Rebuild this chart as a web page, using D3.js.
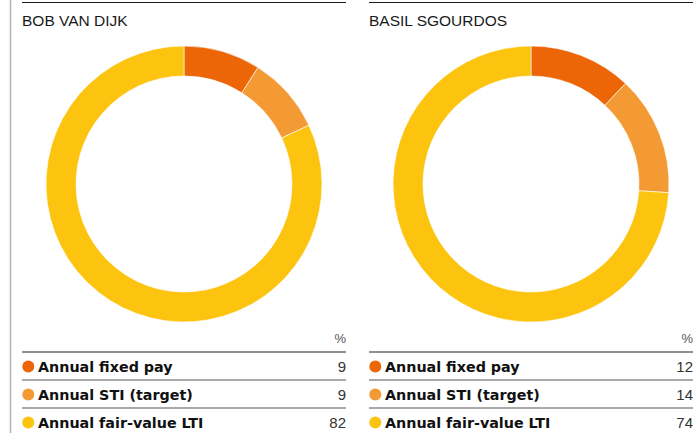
<!DOCTYPE html>
<html>
<head>
<meta charset="utf-8">
<script src="https://cdn.jsdelivr.net/npm/d3@7"></script>
<style>
  html, body { margin: 0; padding: 0; background: #fff; }
  svg { display: block; }
</style>
</head>
<body>
<svg id="chart" width="695" height="433"></svg>
<script>
// Pay mix per executive (percent of total target remuneration)
const people = ["BOB VAN DIJK", "BASIL SGOURDOS"];
const components = ["Annual fixed pay", "Annual STI (target)", "Annual fair-value LTI"];
const bobValues = [9, 9, 82];
const basilValues = [12, 14, 74];
const componentColors = ["#EC6608", "#F39A35", "#FCC30F"];

const seriesByPerson = [bobValues, basilValues];

const svg = d3.select("#chart");
const font = "'Liberation Sans', Arial, sans-serif";
const tableFont = "'DejaVu Sans', sans-serif";

// Thin grey rule down the left margin
svg.append("line")
  .attr("x1", 10.5).attr("x2", 10.5)
  .attr("y1", 0).attr("y2", 433)
  .attr("stroke", "#b3b3b3").attr("stroke-width", 1.5);

const panelWidth = 324;
const panelX = d3.scaleBand().domain(people).range([22, 22 + 2 * panelWidth + 23]).paddingInner(23 / 347);

const color = d3.scaleOrdinal().domain(components).range(componentColors);

const pie = d3.pie().sort(null).value(d => d.value);
const arc = d3.arc().innerRadius(108).outerRadius(138);

const rowY = d3.scaleBand().domain(components).range([352, 436]).padding(0);

people.forEach((name, i) => {
  const g = svg.append("g").attr("transform", `translate(${panelX(name)},0)`);
  const values = seriesByPerson[i];
  const data = components.map((c, k) => ({ key: c, value: values[k] }));

  // Top rule and heading
  g.append("line")
    .attr("x1", 0).attr("x2", panelWidth)
    .attr("y1", 2.5).attr("y2", 2.5)
    .attr("stroke", "#1a1a1a").attr("stroke-width", 1.2);

  g.append("text")
    .attr("x", 0).attr("y", 26)
    .attr("font-family", font)
    .attr("font-size", 15.5)
    .attr("fill", "#1a1a1a")
    .text(name);

  // Donut
  const donut = g.append("g").attr("transform", `translate(${panelWidth / 2},184)`);
  donut.selectAll("path")
    .data(pie(data))
    .join("path")
    .attr("d", arc)
    .attr("fill", d => color(d.data.key))
    .attr("stroke", "#fff")
    .attr("stroke-width", 0.6);

  // Legend table
  g.append("text")
    .attr("x", panelWidth).attr("y", 343)
    .attr("text-anchor", "end")
    .attr("font-family", font)
    .attr("font-size", 13)
    .attr("fill", "#555")
    .text("%");

  const rows = g.selectAll("g.row")
    .data(data)
    .join("g")
    .attr("class", "row")
    .attr("transform", d => `translate(0,${rowY(d.key)})`);

  rows.append("line")
    .attr("x1", 0).attr("x2", panelWidth)
    .attr("y1", 0).attr("y2", 0)
    .attr("stroke", (d, k) => k === 0 ? "#222" : "#555")
    .attr("stroke-width", 1.2);

  rows.append("circle")
    .attr("cx", 6.3).attr("cy", 14.5)
    .attr("r", 6)
    .attr("fill", d => color(d.key));

  rows.append("text")
    .attr("x", 16).attr("y", 20)
    .attr("font-family", tableFont)
    .attr("font-size", 14.3)
    .attr("font-weight", "bold")
    .attr("fill", "#111")
    .text(d => d.key);

  rows.append("text")
    .attr("x", panelWidth).attr("y", 20)
    .attr("text-anchor", "end")
    .attr("font-family", font)
    .attr("font-size", 15)
    .attr("fill", "#333")
    .text(d => d.value);
});
</script>
</body>
</html>
